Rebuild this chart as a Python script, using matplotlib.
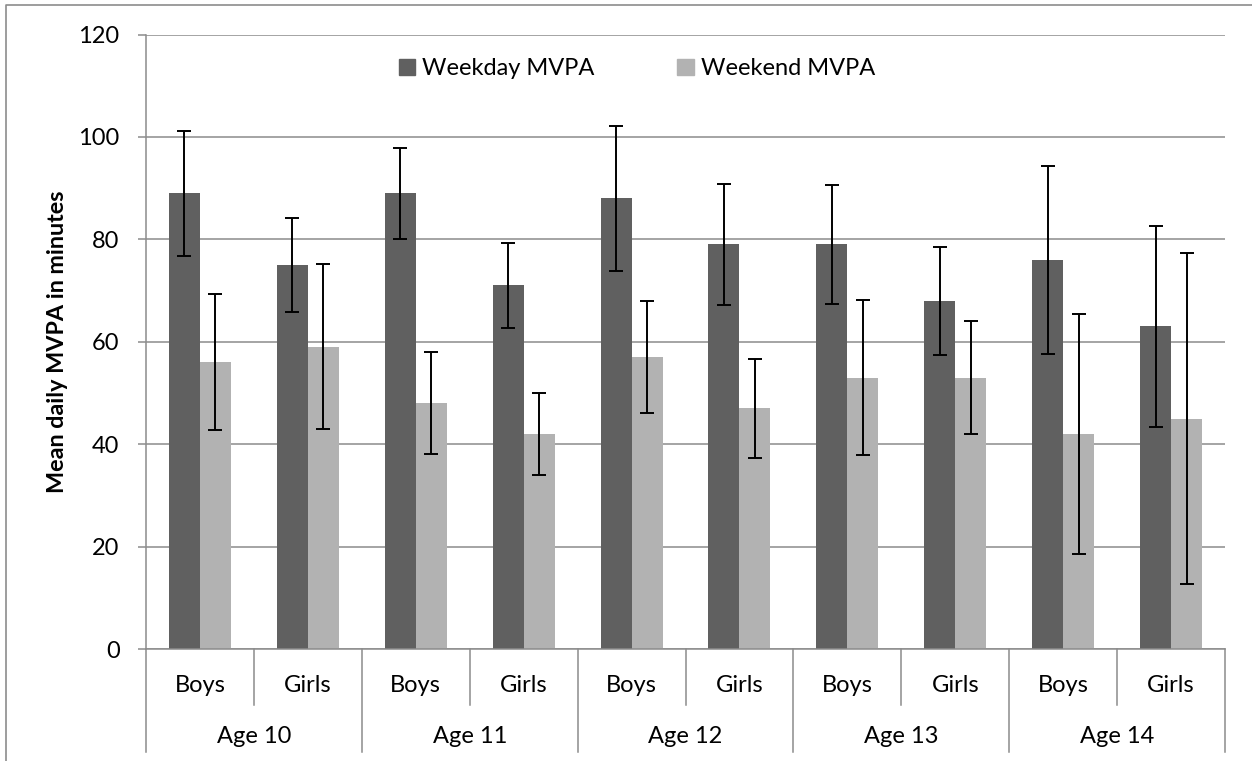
import numpy as np
import matplotlib
matplotlib.use('Agg')
import matplotlib.pyplot as plt
from matplotlib.patches import Patch
from matplotlib.lines import Line2D

plt.rcParams['font.family'] = ['Lato', 'DejaVu Sans']

ages = ['Age 10', 'Age 11', 'Age 12', 'Age 13', 'Age 14']
sexes = ['Boys', 'Girls']
weekday = [89, 75, 89, 71, 88, 79, 79, 68, 76, 63]
weekday_err = [12.2, 9.2, 8.9, 8.3, 14.2, 11.9, 11.6, 10.6, 18.3, 19.7]
weekend = [56, 59, 48, 42, 57, 47, 53, 53, 42, 45]
weekend_err = [13.3, 16.1, 10.0, 8.0, 10.9, 9.7, 15.2, 11.1, 23.5, 32.4]
yticks = [0, 20, 40, 60, 80, 100, 120]

grey = '#8c8c8c'
dark = '#606060'
light = '#b2b2b2'

fig = plt.figure(figsize=(12.52, 7.61), dpi=100)
ax = fig.add_axes([146/1252, 1 - 649/761, 1079/1252, 614.5/761])

x = np.arange(len(weekday))
w = 0.287
ax.bar(x - w/2, weekday, w, color=dark, zorder=2)
ax.bar(x + w/2, weekend, w, color=light, zorder=2)
ax.errorbar(x - w/2, weekday, yerr=weekday_err, fmt='none', ecolor='black',
            elinewidth=1.4, capsize=4.7, capthick=1.4, zorder=3)
ax.errorbar(x + w/2, weekend, yerr=weekend_err, fmt='none', ecolor='black',
            elinewidth=1.4, capsize=4.7, capthick=1.4, zorder=3)

ax.set_xlim(-0.5, len(weekday) - 0.5)
ax.set_ylim(0, 120)
ax.set_yticks(yticks)
ax.yaxis.grid(True, color=grey, linewidth=1.1)
ax.set_axisbelow(True)
ax.tick_params(axis='y', length=6, width=1.1, color=grey, pad=13, labelsize=17)
ax.set_xticks([])
for s in ['top', 'right']:
    ax.spines[s].set_visible(False)
for s in ['left', 'bottom']:
    ax.spines[s].set_color(grey)
    ax.spines[s].set_linewidth(1.1)

ax.set_ylabel('Mean daily MVPA in minutes', fontsize=16.8, fontweight='bold',
              labelpad=0)
ax.yaxis.set_label_coords(-(146 - 68) / 1079, 0.5)

# two-level category axis
tr = ax.get_xaxis_transform()
for i in range(len(weekday)):
    ax.text(i, -0.060, sexes[i % 2], transform=tr, ha='center', va='center',
            fontsize=17)
for j, a in enumerate(ages):
    ax.text(2*j + 0.5, -0.142, a, transform=tr, ha='center', va='center',
            fontsize=17)
for k in range(len(weekday) + 1):
    b = k - 0.5
    bottom = -0.168 if k % 2 == 0 else -0.091
    ax.add_line(Line2D([b, b], [0, bottom], transform=tr, color=grey,
                       linewidth=1.1, clip_on=False))

handles = [Patch(color=dark, label='Weekday MVPA'),
           Patch(color=light, label='Weekend MVPA')]
ax.legend(handles=handles, loc='center', bbox_to_anchor=(0.455, 0.944),
          ncol=2, frameon=False, fontsize=17, handlelength=0.7,
          handleheight=0.7, handletextpad=0.3, columnspacing=3.5)

# chart border (cropped on the right and bottom)
fig.add_artist(Line2D([6/1252, 6/1252, 1.0], [0.0, 1 - 5/761, 1 - 5/761],
                      transform=fig.transFigure, color=grey, linewidth=1.2))

fig.savefig('out.png', dpi=100)
